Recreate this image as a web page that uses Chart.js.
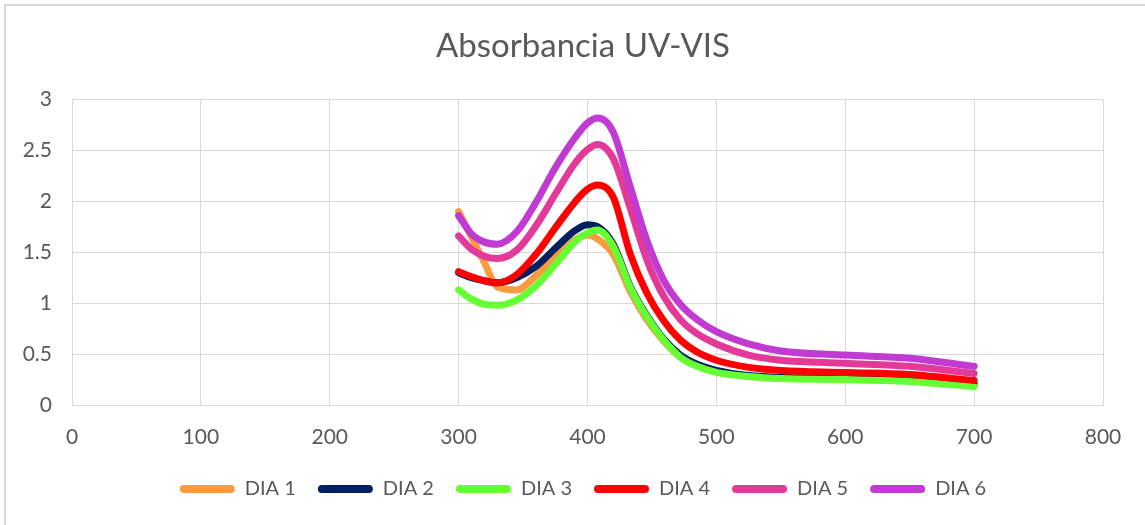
<!DOCTYPE html>
<html>
<head>
<meta charset="utf-8">
<script src="https://cdn.jsdelivr.net/npm/chart.js"></script>
<style>
    body { margin: 0; background: #fff; }
    .frame { position: absolute; left: 4px; top: 4px; width: 1141px; height: 521px; border-left: 2px solid #d9d9d9; border-top: 2px solid #d9d9d9; }
    .wrap { position: absolute; left: 0; top: 0; width: 1145px; height: 525px; }
</style>
</head>
<body>
<div class="frame"></div>
<div class="wrap"><canvas id="uvChart"></canvas></div>
<script>
// --- DATA ---
const wavelengths = [300, 310, 320, 330, 345, 360, 375, 390, 400, 408, 420, 433, 446, 459, 472, 485, 500, 525, 550, 600, 650, 700];
const dia1 = [1.90, 1.65, 1.40, 1.16, 1.13, 1.27, 1.45, 1.62, 1.67, 1.63, 1.48, 1.12, 0.84, 0.63, 0.47, 0.39, 0.33, 0.28, 0.27, 0.26, 0.24, 0.19];
const dia2 = [1.30, 1.25, 1.22, 1.20, 1.25, 1.36, 1.54, 1.71, 1.77, 1.75, 1.58, 1.17, 0.88, 0.65, 0.49, 0.40, 0.34, 0.29, 0.27, 0.26, 0.25, 0.21];
const dia3 = [1.13, 1.04, 0.99, 0.98, 1.03, 1.17, 1.38, 1.60, 1.69, 1.72, 1.56, 1.16, 0.87, 0.64, 0.47, 0.38, 0.32, 0.28, 0.26, 0.25, 0.23, 0.18];
const dia4 = [1.31, 1.26, 1.22, 1.20, 1.28, 1.48, 1.74, 1.99, 2.12, 2.16, 2.04, 1.49, 1.10, 0.83, 0.64, 0.52, 0.44, 0.37, 0.34, 0.32, 0.30, 0.24];
const dia5 = [1.66, 1.53, 1.46, 1.44, 1.52, 1.76, 2.07, 2.37, 2.51, 2.56, 2.42, 1.94, 1.43, 1.07, 0.84, 0.70, 0.60, 0.49, 0.44, 0.41, 0.38, 0.31];
const dia6 = [1.86, 1.68, 1.60, 1.58, 1.70, 1.99, 2.33, 2.62, 2.77, 2.82, 2.68, 2.15, 1.62, 1.23, 0.99, 0.84, 0.72, 0.60, 0.53, 0.49, 0.46, 0.38];

const seriesNames = ['DIA 1', 'DIA 2', 'DIA 3', 'DIA 4', 'DIA 5', 'DIA 6'];
const seriesValues = [dia1, dia2, dia3, dia4, dia5, dia6];
const seriesColors = ['#F99B3E', '#002060', '#66FF33', '#FF0000', '#E33A9A', '#C13BD3'];

const textColor = '#595959';
const gridColor = '#d9d9d9';
const fontFamily = 'Lato, "Open Sans", sans-serif';

const datasets = seriesValues.map((vals, i) => ({
    label: seriesNames[i],
    data: vals.map((v, j) => ({ x: wavelengths[j], y: v })),
    borderColor: seriesColors[i],
    backgroundColor: seriesColors[i],
    borderWidth: 7,
    borderCapStyle: 'round',
    borderJoinStyle: 'round',
    showLine: true,
    pointRadius: 0,
    cubicInterpolationMode: 'monotone',
    order: seriesNames.length - i   // later series drawn on top, like Excel
}));

new Chart(document.getElementById('uvChart'), {
    type: 'scatter',
    data: { datasets },
    options: {
        responsive: true,
        maintainAspectRatio: false,
        animation: false,
        layout: { padding: { left: 21, right: 0, top: 0, bottom: 16 } },
        scales: {
            x: {
                type: 'linear', min: 0, max: 800,
                ticks: { stepSize: 100, color: textColor, font: { family: fontFamily, size: 21 }, padding: 20 },
                grid: { color: gridColor, drawTicks: false },
                border: { color: gridColor },
                afterFit: s => { s.height = 52; }
            },
            y: {
                min: 0, max: 3,
                ticks: { stepSize: 0.5, color: textColor, font: { family: fontFamily, size: 21 }, padding: 20,
                         callback: v => String(v) },
                grid: { color: gridColor, drawTicks: false },
                border: { color: gridColor },
                afterFit: s => { s.width = 51; }
            },
            y2: {
                position: 'right',
                ticks: { display: false },
                grid: { display: false },
                border: { display: false },
                afterFit: s => { s.width = 42; }
            }
        },
        plugins: {
            title: {
                display: true,
                text: 'Absorbancia UV-VIS',
                color: textColor,
                font: { family: fontFamily, size: 33, weight: 'normal' },
                padding: { top: 27, bottom: 33 }
            },
            legend: {
                position: 'bottom',
                labels: {
                    color: textColor,
                    font: { family: fontFamily, size: 20 },
                    boxWidth: 55,
                    boxHeight: 8,
                    padding: 22,
                    useBorderRadius: true,
                    borderRadius: 4,
                    sort: (a, b) => a.datasetIndex - b.datasetIndex,
                    generateLabels: chart => Chart.defaults.plugins.legend.labels.generateLabels(chart)
                        .map(item => Object.assign(item, { lineWidth: 0 }))
                }
            },
            tooltip: { enabled: false }
        }
    }
});
</script>
</body>
</html>
